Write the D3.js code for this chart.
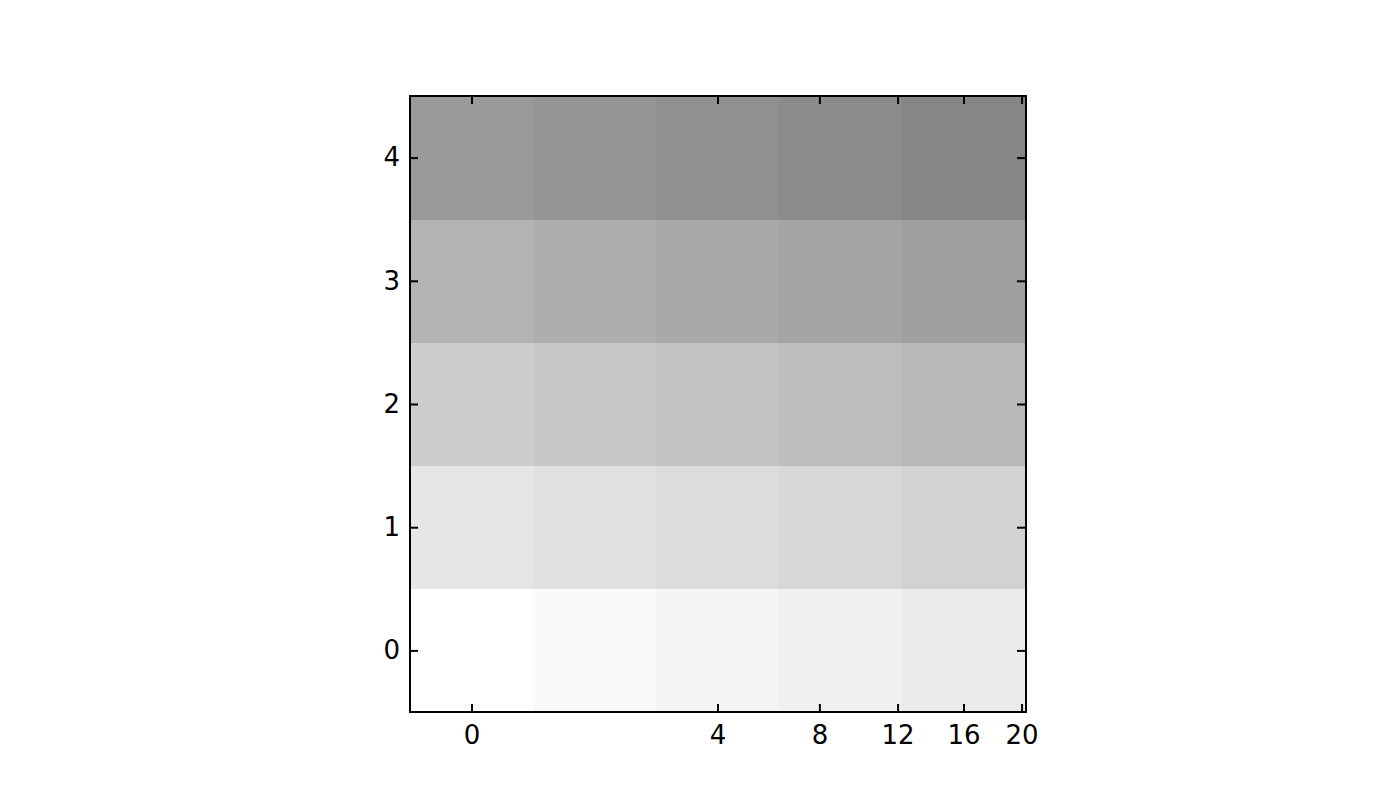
<!DOCTYPE html>
<html>

<head>
    <meta charset="utf-8">
    <script src="https://cdn.jsdelivr.net/npm/d3@7"></script>
    <style>
        body {
            margin: 0;
            background: white;
        }

        text {
            fill: black;
            font-family: "DejaVu Sans";
            font-size: 26px;
        }
    </style>
</head>

<body>

    <script>

        // cell centres along x (the axis is square-root spaced), rows along y
        var xCenters = [0, 1, 4, 9, 16];
        var yRows = [0, 1, 2, 3, 4];
        var xTicks = [0, 4, 8, 12, 16, 20];
        var yTicks = [0, 1, 2, 3, 4];

        // values, one row per y (bottom row first)
        var values = [
            [0, 1, 2, 3, 4],
            [5, 6, 7, 8, 9],
            [10, 11, 12, 13, 14],
            [15, 16, 17, 18, 19],
            [20, 21, 22, 23, 24]
        ];

        // plot box (note: "top" is taken by window.top)
        var boxLeft = 410, boxRight = 1025, boxTop = 96, boxBottom = 712;

        var svg = d3.select('body')
            .append('svg')
            .attr('width', 1400)
            .attr('height', 800);

        var x = d3.scaleSqrt()
            .domain([-0.25, 20.25])
            .range([boxLeft, boxRight]);

        var y = d3.scaleLinear()
            .domain([-0.5, 4.5])
            .range([boxBottom, boxTop]);

        var color = d3.scaleLinear()
            .domain([0, 24])
            .range(['#ffffff', '#868686']);

        // signed square, turns sqrt-space cell edges back into data units
        function sq(v) { return v < 0 ? -v * v : v * v; }

        var cells = [];
        yRows.forEach(function (r, ri) {
            xCenters.forEach(function (c, ci) {
                var s = Math.sqrt(c);
                cells.push({ x0: sq(s - 0.5), x1: sq(s + 0.5), y: r, v: values[ri][ci] });
            });
        });

        svg.append('g')
            .selectAll('rect')
            .data(cells)
            .enter()
            .append('rect')
            .attr('x', d => x(d.x0))
            .attr('width', d => x(d.x1) - x(d.x0) + 0.5)
            .attr('y', d => y(d.y + 0.5))
            .attr('height', d => y(d.y - 0.5) - y(d.y + 0.5) + 0.5)
            .attr('fill', d => color(d.v))
            .attr('shape-rendering', 'crispEdges');

        function styleAxis(g) {
            g.select('.domain').remove();
            g.selectAll('.tick line').attr('stroke', 'black').attr('stroke-width', 2);
            g.selectAll('.tick text').style('font-family', 'DejaVu Sans').style('font-size', '26px');
        }

        var fmt = d3.format('d');

        svg.append('g')
            .attr('transform', 'translate(0,' + boxBottom + ')')
            .call(d3.axisBottom(x).tickValues(xTicks).tickFormat(fmt).tickSizeInner(-8).tickSizeOuter(0).tickPadding(14))
            .call(styleAxis);

        svg.append('g')
            .attr('transform', 'translate(0,' + boxTop + ')')
            .call(d3.axisTop(x).tickValues(xTicks).tickSizeInner(-8).tickSizeOuter(0).tickFormat(''))
            .call(styleAxis);

        svg.append('g')
            .attr('transform', 'translate(' + boxLeft + ',0)')
            .call(d3.axisLeft(y).tickValues(yTicks).tickFormat(fmt).tickSizeInner(-8).tickSizeOuter(0).tickPadding(10))
            .call(styleAxis);

        svg.append('g')
            .attr('transform', 'translate(' + boxRight + ',0)')
            .call(d3.axisRight(y).tickValues(yTicks).tickSizeInner(-8).tickSizeOuter(0).tickFormat(''))
            .call(styleAxis);

        // frame
        svg.append('rect')
            .attr('x', boxLeft)
            .attr('y', boxTop)
            .attr('width', boxRight - boxLeft + 1)
            .attr('height', boxBottom - boxTop)
            .attr('fill', 'none')
            .attr('stroke', 'black')
            .attr('stroke-width', 2);
    </script>

</body>

</html>
